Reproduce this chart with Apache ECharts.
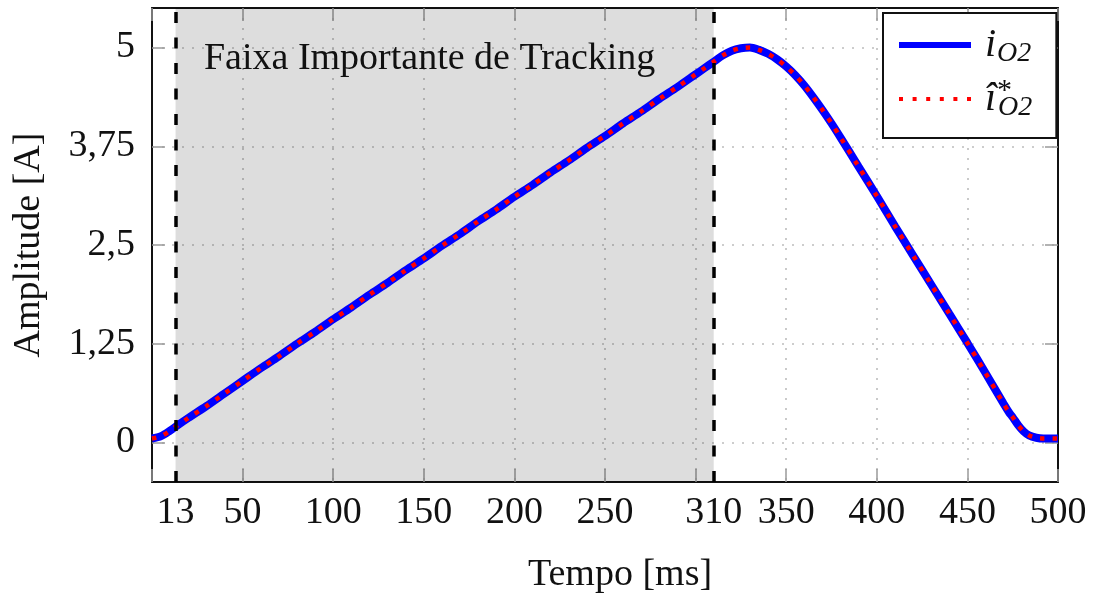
<!DOCTYPE html>
<html>
<head>
<meta charset="utf-8">
<script src="https://cdn.jsdelivr.net/npm/echarts@6/dist/echarts.min.js"></script>
<style>
  html, body { margin: 0; padding: 0; background: #fff; }
  #chart { width: 1095px; height: 599px; }
</style>
</head>
<body>
<div id="chart"></div>
<script>
// tempo [ms] e corrente de saida [A]
const timeMs = [0, 5, 10, 13, 20, 30, 40, 50, 60, 70, 80, 90, 100, 110, 120, 130, 140, 150, 160, 170,
  180, 190, 200, 210, 220, 230, 240, 250, 260, 270, 280, 290, 300, 305, 310, 315, 320, 325, 330, 335,
  340, 345, 350, 355, 360, 365, 370, 375, 380, 390, 400, 410, 420, 430, 440, 450, 460, 470, 473, 475,
  478, 481, 484, 488, 492, 500];
const ampIo2 = [0.05, 0.08, 0.15, 0.20, 0.31, 0.46, 0.62, 0.78, 0.94, 1.09, 1.25, 1.40, 1.56, 1.71, 1.87, 2.02, 2.18, 2.33, 2.49, 2.64,
  2.80, 2.95, 3.11, 3.26, 3.42, 3.57, 3.73, 3.88, 4.04, 4.19, 4.35, 4.50, 4.66, 4.74, 4.82, 4.90, 4.96, 4.99, 5.00, 4.97,
  4.92, 4.85, 4.76, 4.65, 4.52, 4.37, 4.21, 4.04, 3.86, 3.49, 3.12, 2.74, 2.37, 2.00, 1.63, 1.26, 0.88, 0.49, 0.38, 0.32,
  0.22, 0.14, 0.09, 0.06, 0.05, 0.05];
// a referencia fica exatamente sobre a corrente medida
const ampIo2Ref = ampIo2;

const xLabelValues = [13, 50, 100, 150, 200, 250, 310, 350, 400, 450, 500];
const yTickValues = [0, 1.25, 2.5, 3.75, 5];
const trackingBand = [13, 310];

const serif = 'Liberation Serif';
const fs = 38;

// icone pontilhado da legenda (6 quadradinhos)
const dottedIcon = 'path://M0,0h4v4h-4z M13.6,0h4v4h-4z M27.2,0h4v4h-4z M40.8,0h4v4h-4z M54.4,0h4v4h-4z M68,0h4v4h-4z';

let dom = document.getElementById('chart');
let myChart = echarts.init(dom);

let frameLine = { show: true, onZero: false, lineStyle: { color: '#111', width: 2 } };
let tickStyle = { show: true, inside: true, length: 13, lineStyle: { color: '#9a9a9a', width: 1.5 } };
let gridLine = { show: true, lineStyle: { color: '#bdbdbd', width: 1.6, type: [2, 8] } };

let option = {
  animation: false,
  textStyle: { fontFamily: serif },
  grid: { left: 152, right: 37, top: 8, bottom: 112 },
  legend: {
    data: [
      { name: 'io2', icon: 'rect' },
      { name: 'io2ref', icon: dottedIcon }
    ],
    orient: 'vertical',
    left: 883, top: 13,
    padding: [12, 24, 16, 16],
    itemWidth: 72, itemHeight: 6, itemGap: 8,
    borderColor: '#111', borderWidth: 2, backgroundColor: '#fff',
    formatter: function (name) {
      return name === 'io2' ? '{i|i}{sub|O2}' : '{i|î}{sup|*}{sub|O2}';
    },
    textStyle: {
      color: '#111',
      rich: {
        i: { fontFamily: serif, fontStyle: 'italic', fontSize: 40, lineHeight: 46, verticalAlign: 'middle', padding: [0, 1, 0, 9] },
        sub: { fontFamily: serif, fontStyle: 'italic', fontSize: 28, lineHeight: 22, verticalAlign: 'bottom' },
        sup: { fontFamily: serif, fontSize: 30, lineHeight: 22, verticalAlign: 'top', width: 1 }
      }
    }
  },
  xAxis: [{
    type: 'value', min: 0, max: 500, interval: 50,
    name: 'Tempo [ms]', nameLocation: 'middle', nameGap: 74,
    nameTextStyle: { fontFamily: serif, fontSize: fs, color: '#111', padding: [0, 0, 0, 30] },
    axisLine: frameLine,
    axisTick: tickStyle,
    axisLabel: {
      customValues: xLabelValues,
      fontFamily: serif, fontSize: fs, color: '#111', margin: 12
    },
    splitLine: gridLine
  }, {
    type: 'value', min: 0, max: 500, interval: 50, position: 'top',
    axisLine: frameLine, axisTick: tickStyle,
    axisLabel: { show: false }, splitLine: { show: false }
  }],
  yAxis: [{
    type: 'value', min: -0.5, max: 5.5,
    name: 'Amplitude [A]', nameLocation: 'middle', nameGap: 104, nameRotate: 90,
    nameTextStyle: { fontFamily: serif, fontSize: fs, color: '#111' },
    axisLine: frameLine,
    axisTick: Object.assign({ customValues: yTickValues }, tickStyle),
    axisLabel: {
      customValues: yTickValues,
      fontFamily: serif, fontSize: fs, color: '#111', margin: 17,
      formatter: function (v) { return String(v).replace('.', ','); }
    },
    splitLine: gridLine
  }, {
    type: 'value', min: -0.5, max: 5.5, position: 'right',
    axisLine: frameLine,
    axisTick: Object.assign({ customValues: yTickValues }, tickStyle),
    axisLabel: { show: false }, splitLine: { show: false }
  }],
  series: [
    {
      name: 'faixa', type: 'line', data: [], silent: true,
      markArea: {
        silent: true,
        itemStyle: { color: 'rgba(0,0,0,0.135)' },
        label: {
          show: true, position: 'insideTop', distance: 32, offset: [-15, 0],
          fontFamily: serif, fontSize: fs, color: '#111'
        },
        data: [[{ name: 'Faixa Importante de Tracking', xAxis: trackingBand[0] }, { xAxis: trackingBand[1] }]]
      },
      markLine: {
        silent: true, symbol: 'none', label: { show: false },
        lineStyle: { color: '#000', width: 3.5, type: [11, 14.5] },
        data: trackingBand.map(function (v) { return { xAxis: v }; })
      }
    },
    {
      name: 'io2', type: 'line', symbol: 'none', smooth: 0.3,
      lineStyle: { color: '#0000ff', width: 8 },
      itemStyle: { color: '#0000ff' },
      data: timeMs.map(function (t, i) { return [t, ampIo2[i]]; }),
      z: 3
    },
    {
      name: 'io2ref', type: 'line', symbol: 'none', smooth: 0.3,
      lineStyle: { color: '#ff0000', width: 4.5, type: [4.5, 8] },
      itemStyle: { color: '#ff0000' },
      data: timeMs.map(function (t, i) { return [t, ampIo2Ref[i]]; }),
      z: 4
    }
  ]
};
myChart.setOption(option);
</script>
</body>
</html>
